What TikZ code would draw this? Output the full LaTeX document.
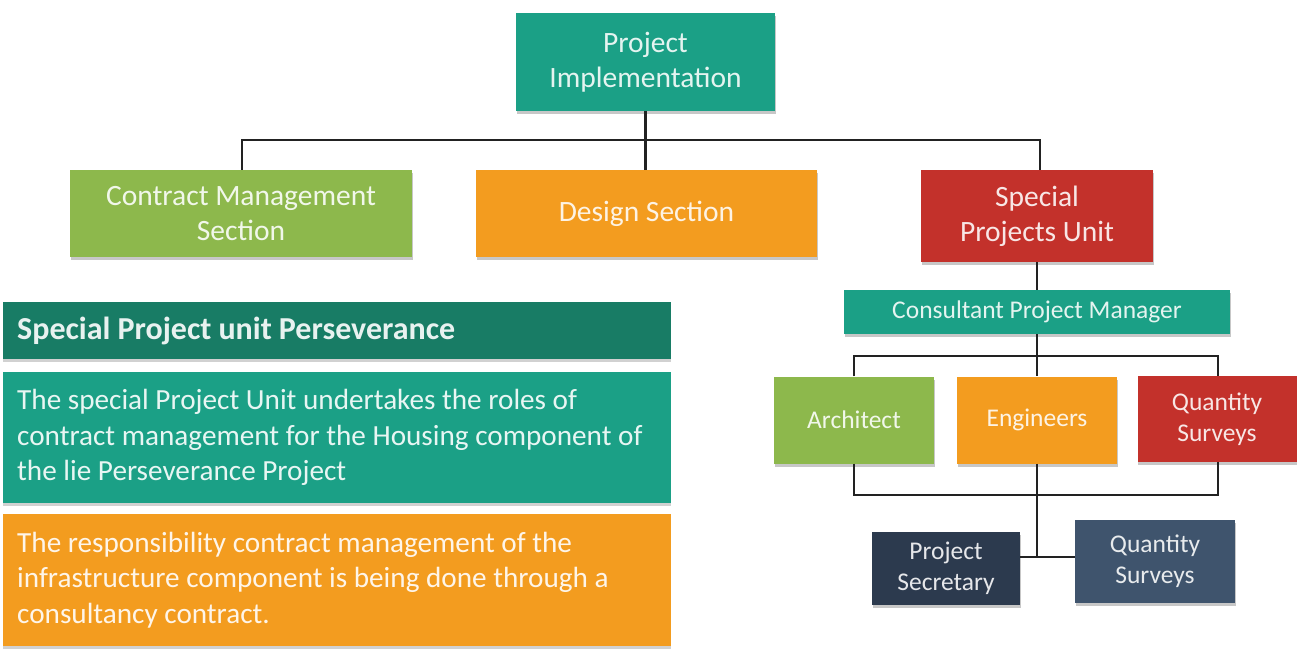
\documentclass[tikz,border=0pt]{standalone}
\usepackage{fontspec}
\setmainfont{Carlito}
\definecolor{cteal}{HTML}{1BA086}
\definecolor{cdteal}{HTML}{187C65}
\definecolor{cgreen}{HTML}{8DB84C}
\definecolor{corange}{HTML}{F39C1F}
\definecolor{cred}{HTML}{C3312B}
\definecolor{cnavy}{HTML}{2C3A4E}
\definecolor{cslate}{HTML}{3F546D}
\definecolor{cline}{HTML}{222222}
\begin{document}
\begin{tikzpicture}[x=1pt,y=-1pt,
  box/.style={fill=#1, text=white!88!#1, align=center, inner sep=0pt,
    preaction={fill=black!22, transform canvas={xshift=0.5pt,yshift=-3pt}}},
  big/.style={font=\fontsize{29.5}{35}\selectfont},
  small/.style={font=\fontsize{25.5}{31}\selectfont},
  para/.style={fill=#1, text=white!90!#1, anchor=north west, inner sep=0pt,
    preaction={fill=black!18, transform canvas={yshift=-3pt}}},
  body/.style={font=\fontsize{29.2}{35.5}\selectfont},
  conn/.style={draw=cline, line width=2.6pt}]
\useasboundingbox (0,0) rectangle (1299,650);

% top level
\node[box=cteal, big, minimum width=259pt, minimum height=98pt] (pi) at (645.5,62) {Project\\Implementation};
\node[box=cgreen, big, minimum width=342pt, minimum height=87pt] (cms) at (241,213.5) {Contract Management\\Section};
\node[box=corange, big, minimum width=341pt, minimum height=87pt] (ds) at (646.5,213.5) {Design Section};
\node[box=cred, big, minimum width=232pt, minimum height=92pt] (spu) at (1037,216) {Special\\Projects Unit};

\coordinate (j1) at (645.5,140);
\draw[conn] (pi.south) -- (j1);
\draw[conn] (cms.north -| 242,0) |- (1040,140) -- (spu.north -| 1040,0);
\draw[conn] (j1) -- (ds.north -| j1);

% consultant
\node[box=cteal, small, minimum width=386pt, minimum height=44pt] (cpm) at (1037,312) {Consultant Project Manager};
\draw[conn] (spu.south) -- (cpm.north);

\node[box=cgreen, small, minimum width=160pt, minimum height=87pt] (arch) at (854,420) {Architect};
\node[box=corange, small, minimum width=160pt, minimum height=87pt] (eng) at (1037,420) {Engineers};
\node[box=cred, small, minimum width=159pt, minimum height=86pt] (qs) at (1217,419) {Quantity\\Surveys};

\coordinate (j2) at (1037,356);
\draw[conn] (cpm.south) -- (j2);
\draw[conn] (arch.north -| 854,0) |- (1218,356) -- (qs.north -| 1218,0);
\draw[conn] (j2) -- (eng.north);
\draw[conn] (arch.south -| 854,0) |- (1218,495) -- (qs.south -| 1218,0);

\node[box=cnavy, small, minimum width=148pt, minimum height=73pt] (ps) at (946,568) {Project\\Secretary};
\node[box=cslate, small, minimum width=160pt, minimum height=83pt] (qs2) at (1155,561) {Quantity\\Surveys};
\coordinate (j3) at (1037,557);
\draw[conn] (eng.south) -- (j3);
\draw[conn] (ps.east |- j3) -- (qs2.west |- j3);

% left panel
\node[para=cdteal, minimum height=57pt, text width=640pt, align=left, inner xsep=14pt, inner ysep=0pt,
  font=\bfseries\fontsize{32}{36}\selectfont] (hdr) at (3,302) {\spaceskip=0.22em Special Project unit Perseverance};
\node[para=cteal, body] (p1) at (3,372)
  {\begin{minipage}[t][131pt][c]{668pt}\raggedright\leftskip=14pt The special Project Unit undertakes the roles of\\
   contract management for the Housing component of\\
   the lie Perseverance Project\end{minipage}};
\node[para=corange, body] (p2) at (3,514)
  {\begin{minipage}[t][132pt][c]{668pt}\raggedright\leftskip=14pt The responsibility contract management of the\\
   infrastructure component is being done through a\\
   consultancy contract.\end{minipage}};
\end{tikzpicture}
\end{document}
